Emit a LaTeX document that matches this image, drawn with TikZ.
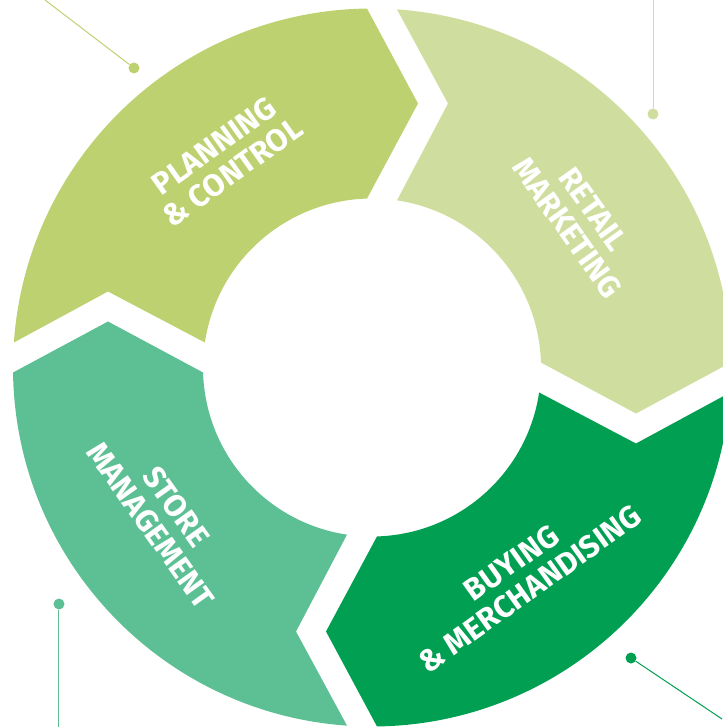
\documentclass[tikz,border=0pt]{standalone}
\usepackage{fontspec}
\setsansfont{Fira Sans}
\usetikzlibrary{arrows}

\definecolor{plancol}{HTML}{BDD170}
\definecolor{retailcol}{HTML}{CFDE9E}
\definecolor{buycol}{HTML}{009F51}
\definecolor{storecol}{HTML}{5DC094}

\tikzset{
	seg/.style={fill=#1, draw=none},
	lbl/.style={text=white, align=center, inner sep=0pt,
		font=\sffamily\bfseries\fontsize{31}{32}\selectfont},
	dot/.style={circle, fill=#1, draw=none, inner sep=0pt, minimum size=11pt},
	lead/.style={draw=#1, line width=1pt}
}

\begin{document}
\begin{tikzpicture}[x=1pt,y=1pt]
			\useasboundingbox (-372,-359.5) rectangle (350,367.5);
			%Retail marketing
			\path[seg=retailcol] ({acos(25/359)}:359) arc[start angle={acos(25/359)}, end angle={asin(5/359)}, radius=359]
				-- (264,-46) -- ({asin(5/169)}:169) arc[start angle={asin(5/169)}, end angle={acos(25/169)}, radius=169]
				-- (76,264) -- cycle;
			%Planning and control
			\path[seg=plancol, rotate=90] ({acos(25/359)}:359) arc[start angle={acos(25/359)}, end angle={asin(5/359)}, radius=359]
				-- (264,-46) -- ({asin(5/169)}:169) arc[start angle={asin(5/169)}, end angle={acos(25/169)}, radius=169]
				-- (76,264) -- cycle;
			%Store management
			\path[seg=storecol, rotate=180] ({acos(25/359)}:359) arc[start angle={acos(25/359)}, end angle={asin(5/359)}, radius=359]
				-- (264,-46) -- ({asin(5/169)}:169) arc[start angle={asin(5/169)}, end angle={acos(25/169)}, radius=169]
				-- (76,264) -- cycle;
			%Buying and merchandising
			\path[seg=buycol, rotate=270] ({acos(25/359)}:359) arc[start angle={acos(25/359)}, end angle={asin(5/359)}, radius=359]
				-- (264,-46) -- ({asin(5/169)}:169) arc[start angle={asin(5/169)}, end angle={acos(25/169)}, radius=169]
				-- (76,264) -- cycle;
			
			%Labels
			\node[lbl, rotate=35.5] (plan) at (125.5:256) {PLANNING\\\& CONTROL};
			\node[lbl, rotate=-54.5] (retail) at (35.5:256) {RETAIL\\MARKETING};
			\node[lbl, rotate=35.5] (buy) at (-54.5:256) {BUYING\\\& MERCHANDISING};
			\node[lbl, rotate=-54.5] (store) at (-144.5:256) {STORE\\MANAGEMENT};
			
			%Leader lines
			\node[dot=plancol] (plandot) at (-238,299.5) {};
			\coordinate (planend) at (-327,367.5);
			\draw[lead=plancol] (plandot) -- (planend);
			\node[dot=retailcol] (retaildot) at (281,253.5) {};
			\coordinate (retailend) at (281,367.5);
			\draw[lead=retailcol] (retaildot) -- (retailend);
			\node[dot=storecol] (storedot) at (-313,-236.5) {};
			\coordinate (storeend) at (-313,-359.5);
			\draw[lead=storecol] (storedot) -- (storeend);
			\node[dot=buycol] (buydot) at (259,-290.5) {};
			\coordinate (buyend) at (350,-351.5);
			\draw[lead=buycol] (buydot) -- (buyend);
			
			\end{tikzpicture}
\end{document}
